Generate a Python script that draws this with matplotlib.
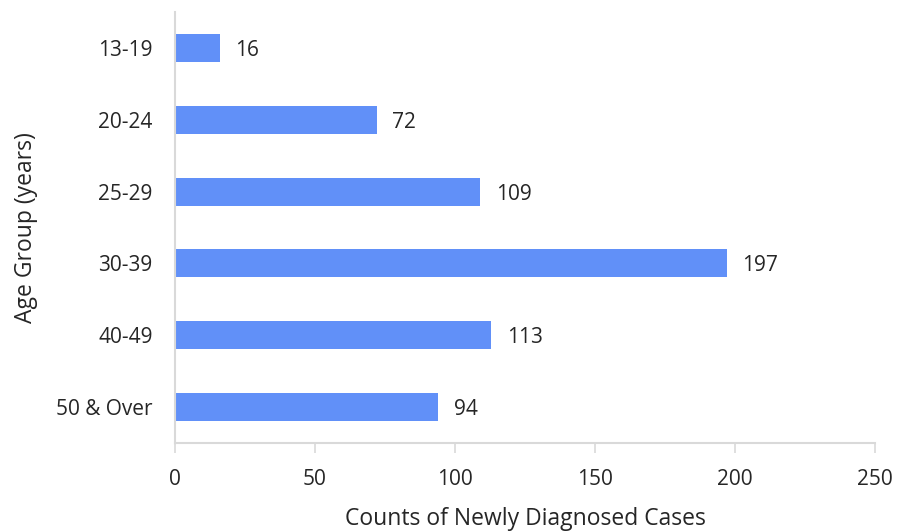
import numpy as np
import matplotlib.pyplot as plt

groups = ['13-19', '20-24', '25-29', '30-39', '40-49', '50 & Over']
counts = [16, 72, 109, 197, 113, 94]

plt.rcParams['font.family'] = ['Open Sans', 'DejaVu Sans']

fig = plt.figure(figsize=(9.01, 5.31), dpi=100)
ax = fig.add_axes([0.1942, 0.1657, 0.7769, 0.8117])

y = np.arange(len(groups))
ax.barh(y, counts, height=0.39, color='#6190F8')
for yi, c in zip(y, counts):
    ax.text(c + 5.5, yi, str(c), va='center_baseline', ha='left', fontsize=15, color='#262626')

ax.set_yticks(y)
ax.set_yticklabels(groups)
ax.set_ylim(len(groups) - 0.5, -0.5)
ax.set_xlim(0, 250)
ax.set_xticks(np.arange(0, 251, 50))

for s in ['top', 'right']:
    ax.spines[s].set_visible(False)
for s in ['left', 'bottom']:
    ax.spines[s].set_color('#D9D9D9')
    ax.spines[s].set_linewidth(1.5)

ax.tick_params(axis='y', length=0, pad=16, labelsize=15, labelcolor='#262626')
ax.tick_params(axis='x', length=7, width=1.2, color='#D9D9D9', pad=12,
               labelsize=15, labelcolor='#262626')

ax.set_xlabel('Counts of Newly Diagnosed Cases', fontsize=16.5, color='#262626', labelpad=12)
ax.set_ylabel('Age Group (years)', fontsize=16.5, color='#262626', labelpad=13)

fig.savefig('out.png', dpi=100)
